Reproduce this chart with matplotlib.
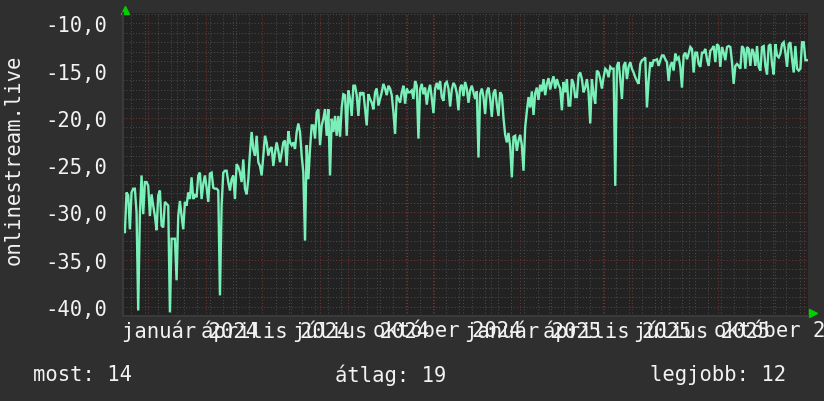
import datetime as dt
import numpy as np
import matplotlib
matplotlib.use("Agg")
import matplotlib.pyplot as plt
import matplotlib.dates as mdates
from matplotlib.ticker import MultipleLocator, FuncFormatter
from matplotlib.transforms import blended_transform_factory

# ranking of onlinestream.live (negative: higher is better), ~every 1.8 days
first_day = dt.date(2023, 11, 6)
last_day = dt.date(2025, 11, 4)
rank = [
    -32.1, -27.9, -28.2, -31.8, -27.9, -27.5, -27.5, -30.0, -40.4, -30.2,
    -26.1, -30.2, -26.8, -26.8, -27.2, -30.4, -28.1, -29.3, -30.4, -31.9,
    -28.2, -27.7, -31.4, -31.6, -28.9, -29.1, -29.3, -40.6, -32.8, -32.8,
    -32.8, -37.2, -30.4, -28.8, -30.4, -31.8, -28.9, -29.3, -27.9, -28.6,
    -26.3, -28.6, -28.2, -28.4, -26.1, -25.8, -28.6, -27.0, -26.1, -27.4,
    -28.9, -25.9, -25.8, -27.4, -27.5, -27.5, -27.7, -38.8, -29.3, -25.8,
    -25.6, -25.6, -26.8, -27.7, -26.5, -26.1, -28.6, -24.9, -25.2, -25.8,
    -26.8, -24.4, -27.5, -28.1, -26.5, -23.7, -21.5, -23.3, -24.0, -21.9,
    -24.7, -25.1, -26.1, -24.0, -21.9, -22.6, -24.0, -23.3, -23.1, -25.1,
    -23.7, -22.6, -23.5, -24.7, -23.7, -22.6, -22.4, -25.1, -21.4, -22.6,
    -22.9, -22.6, -23.3, -21.5, -20.6, -21.5, -24.0, -25.8, -33.0, -22.9,
    -26.5, -23.3, -20.8, -20.8, -22.2, -19.4, -19.1, -22.9, -20.8, -20.1,
    -19.1, -21.9, -19.1, -26.1, -20.1, -21.5, -19.8, -21.9, -19.8, -22.0,
    -18.9, -17.5, -17.6, -21.9, -17.1, -18.0, -19.8, -16.6, -16.6, -17.6,
    -19.8, -17.3, -17.5, -17.3, -19.1, -20.8, -17.5, -18.0, -18.4, -19.1,
    -17.3, -16.9, -18.7, -18.0, -17.3, -16.4, -16.9, -17.6, -16.6, -16.9,
    -17.6, -19.4, -21.7, -17.6, -18.0, -18.4, -17.3, -16.6, -18.5, -16.9,
    -17.3, -17.3, -17.1, -18.0, -16.1, -16.6, -22.2,
    # middle part
    -17.0, -16.4, -17.5, -16.8, -18.6, -17.2, -16.5, -17.9, -19.5, -16.9,
    -16.3, -17.0, -16.1, -17.8, -18.2, -16.4, -16.2, -16.9, -18.8, -17.0,
    -16.3, -16.6, -17.4, -19.2, -16.8, -16.5, -17.7, -16.2, -16.9, -18.4,
    -17.1, -16.6, -17.3, -18.0, -17.2, -24.2, -17.5, -16.9, -17.8, -19.6,
    -17.2, -16.8, -18.0, -19.9, -17.4, -17.0, -18.6, -19.8, -17.3, -17.6,
    -20.0, -21.8, -22.6, -21.6, -23.0, -26.3, -22.0, -21.9, -23.5, -22.4,
    -21.8, -22.9, -25.6, -21.0, -19.3, -17.8, -18.9, -17.2, -19.7, -17.4,
    -16.8, -18.1, -16.5, -17.2, -15.9, -17.6, -16.4, -15.8, -17.0, -16.2,
    -15.6, -16.9, -15.9, -16.5,
    -16.9, -19.2, -16.2, -17.3, -15.9, -18.7, -18.7, -15.9, -16.4, -17.8,
    -17.8, -15.5, -15.2, -15.9, -17.3, -16.8, -15.9, -17.3, -20.6, -15.9,
    -17.5, -18.5, -15.0, -15.2, -15.9, -16.9, -15.7, -14.8, -15.0, -15.7,
    -14.6, -14.8, -14.8, -27.2, -14.5, -14.1, -15.9, -18.0, -14.5, -14.1,
    -15.9, -14.6, -14.1, -14.8, -15.2, -15.7, -16.1, -16.4, -14.3, -13.9,
    -13.8, -13.6, -18.9, -16.1, -14.1, -14.6, -13.9, -13.9, -13.8, -14.5,
    -13.9, -13.4, -13.4, -13.8, -14.1, -16.1, -14.5, -14.1, -15.0, -13.2,
    -13.8, -13.6, -14.6, -16.8, -13.4, -13.1, -13.8, -13.2, -12.5, -12.7,
    -15.2, -13.1, -13.1, -14.3, -14.6, -13.1, -13.1, -12.7, -13.8, -14.5,
    -12.9, -12.7, -12.4, -14.1, -12.2, -12.4, -14.6, -12.5, -13.1, -13.9,
    -12.5, -12.4, -12.5, -14.1, -16.4, -14.5, -14.3, -14.5, -14.8, -12.4,
    -12.7, -14.8, -12.5, -12.7, -14.5, -12.7, -13.1, -14.5, -12.4, -14.6,
    -15.0, -12.5, -12.4, -14.5, -15.4, -12.4, -12.2, -14.3, -15.4, -12.2,
    -13.4, -13.6, -13.2, -12.2, -12.0, -13.1, -14.6, -12.2, -12.0, -13.8,
    -15.2, -12.4, -14.8, -15.0, -14.8, -12.0, -12.0, -13.9, -13.9,
]

label_dates = [dt.date(2024, 1, 15), dt.date(2024, 4, 15), dt.date(2024, 7, 15),
               dt.date(2024, 10, 15), dt.date(2025, 1, 15), dt.date(2025, 4, 15),
               dt.date(2025, 7, 15), dt.date(2025, 10, 15)]
label_texts = ["január 2024", "április 2024", "július 2024", "október 2024",
               "január 2025", "április 2025", "július 2025", "október 2025"]

summary = [("most: 14", 33), ("átlag: 19", 335), ("legjobb: 12", 650)]

bg = '#2f2f2f'
plot_bg = '#222222'
fg = '#f2f2f2'
mono = 'DejaVu Sans Mono'
fs = 14.8

n = len(rank)
span = (last_day - first_day).days
x = mdates.date2num(first_day) + np.linspace(0, span, n)

fig = plt.figure(figsize=(8.24, 4.02), dpi=100, facecolor=bg)
W, H = 824.0, 402.0
ax = fig.add_axes([123 / W, 1 - 316.7 / H, 685 / W, (316.7 - 14) / H])
ax.set_facecolor(plot_bg)

ax.set_xlim(mdates.date2num(dt.date(2023, 11, 4)), mdates.date2num(dt.date(2025, 11, 5)))
ax.set_ylim(-40.95, -8.9)

# grid: two-weekly / monthly in x, 1 / 5 in y
ax.xaxis.set_major_locator(mdates.MonthLocator())
ax.xaxis.set_minor_locator(mdates.WeekdayLocator(byweekday=mdates.MO, interval=2))
ax.yaxis.set_major_locator(MultipleLocator(5))
ax.yaxis.set_minor_locator(MultipleLocator(1))
ax.grid(which='minor', color='#4a4a4a', linestyle=(0, (1, 2)), linewidth=0.75)
ax.grid(which='major', color='#743232', linestyle=(0, (1, 2)), linewidth=0.75)
ax.set_axisbelow(True)

ax.yaxis.set_major_formatter(FuncFormatter(lambda v, p: ("%.1f" % v).replace('.', ',')))
ax.tick_params(axis='y', which='both', length=0, pad=11.5, labelsize=fs, labelcolor=fg)
ax.tick_params(axis='x', which='both', length=0, labelbottom=False)
for lab in ax.get_yticklabels():
    lab.set_family(mono)

for s in ['top', 'right']:
    ax.spines[s].set_visible(False)
for s in ['left', 'bottom']:
    ax.spines[s].set_color('#3a3a3a')
    ax.spines[s].set_linewidth(1.5)

ax.plot(x, rank, color='#78f0b8', linewidth=1.7, solid_joinstyle='miter')

trans = blended_transform_factory(ax.transData, ax.transAxes)
for d, t in zip(label_dates, label_texts):
    ax.text(mdates.date2num(d), -0.047, t, transform=trans, ha='center', va='center',
            color=fg, fontsize=fs, family=mono, clip_on=False)

# arrows on the axes ends
ax.plot([0.003], [1.01], marker='^', color='#00d000', markersize=6, transform=ax.transAxes, clip_on=False)
ax.plot([1.007], [0.008], marker='>', color='#00d000', markersize=6, transform=ax.transAxes, clip_on=False)

fig.text(14 / W, 1 - 160 / H, "onlinestream.live", rotation=90, ha='center', va='center',
         color=fg, fontsize=fs, family=mono)
for t, px in summary:
    fig.text(px / W, 1 - 375 / H, t, ha='left', va='center', color=fg, fontsize=fs, family=mono)

fig.savefig("out.png", dpi=100, facecolor=bg)
